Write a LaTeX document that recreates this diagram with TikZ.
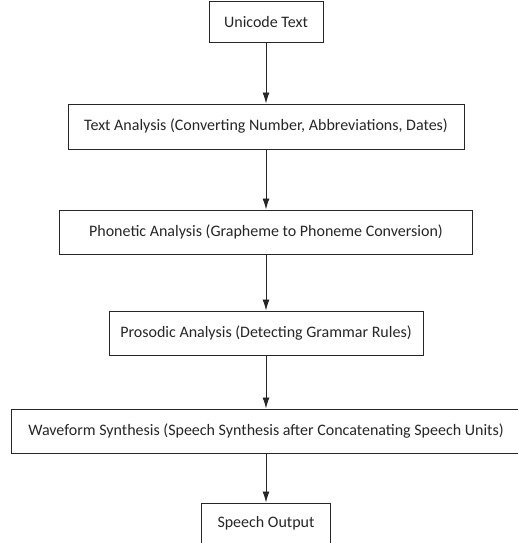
\documentclass[tikz,border=0pt]{standalone}
\usepackage{fontspec}
\setmainfont{Carlito}
\usepackage{tikz}
\usetikzlibrary{positioning, arrows.meta}

\begin{document}
\begin{tikzpicture}[x=1pt, y=1pt,
    stage/.style={draw=black!85, line width=1pt, minimum height=44pt, inner sep=0pt,
        text=black!85, font=\fontsize{16}{19}\selectfont},
    flow/.style={-{Latex[length=11pt, width=7pt]}, line width=0.8pt, black!85}]
    \useasboundingbox (0,0) rectangle (518,-543);

    % processing stages
    \node[stage, minimum width=114pt, minimum height=41pt] (unicode) at (266,-22.5) {Unicode Text};
    \node[stage, minimum width=396pt, minimum height=45pt, below=60pt of unicode] (textan) {Text Analysis (Converting Number, Abbreviations, Dates)};
    \node[stage, minimum width=413pt, below=60pt of textan] (phonetic) {Phonetic Analysis (Grapheme to Phoneme Conversion)};
    \node[stage, minimum width=314pt, below=56pt of phonetic] (prosodic) {Prosodic Analysis (Detecting Grammar Rules)};
    \node[stage, minimum width=510pt, below=53pt of prosodic] (wave) {Waveform Synthesis (Speech Synthesis after Concatenating Speech Units)};
    \node[stage, minimum width=129pt, minimum height=40pt, below=49pt of wave] (output) {Speech Output};

    % arrows
    \draw[flow] (unicode) -- (textan);
    \draw[flow] (textan) -- (phonetic);
    \draw[flow] (phonetic) -- (prosodic);
    \draw[flow] (prosodic) -- (wave);
    \draw[flow] (wave) -- (output);

\end{tikzpicture}
\end{document}
